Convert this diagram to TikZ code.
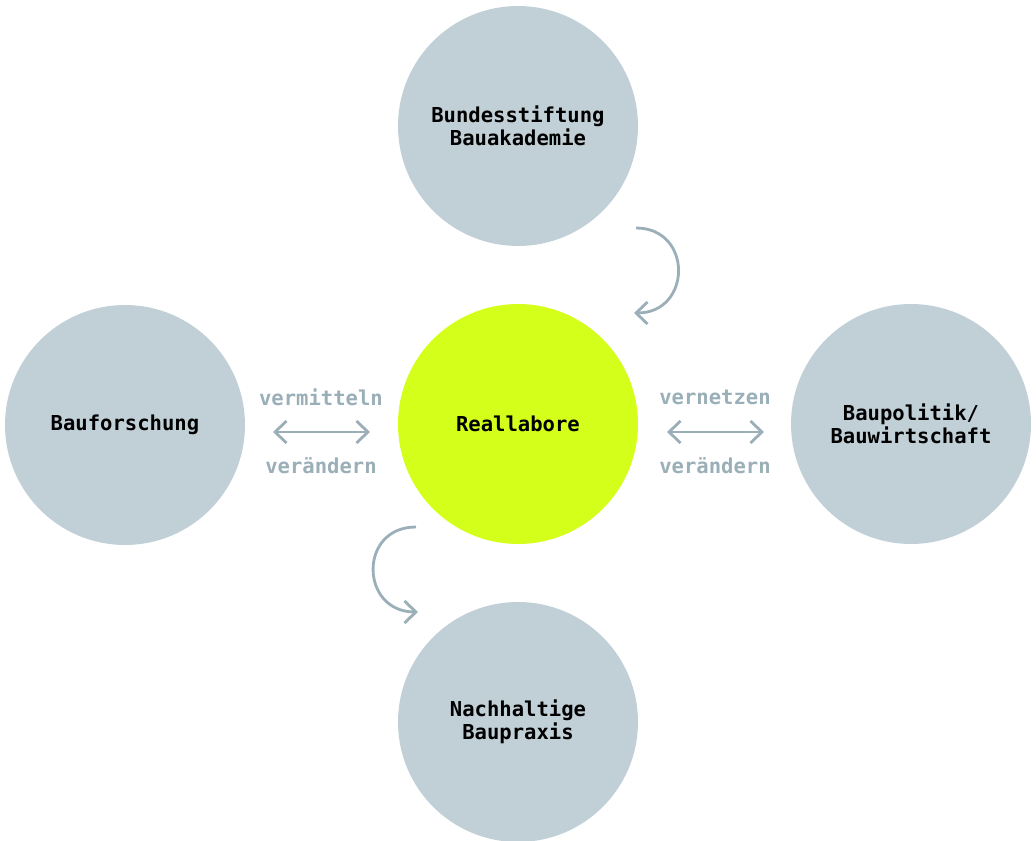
\documentclass[tikz,border=0pt]{standalone}
\usepackage{fontspec}
\setmonofont{DejaVu Sans Mono}
\usetikzlibrary{arrows.meta}
\definecolor{kreisgrau}{HTML}{C1CFD6}
\definecolor{laborgruen}{HTML}{D4FF1A}
\definecolor{pfeilgrau}{HTML}{9AAFB8}
\tikzset{
    kreis/.style={circle,fill=kreisgrau,minimum size=4.8cm,inner sep=0pt,align=center,
        font=\ttfamily\bfseries\fontsize{11.7}{12.8}\selectfont},
    wort/.style={text=pfeilgrau,font=\ttfamily\bfseries\fontsize{11.7}{12.8}\selectfont},
    pfeil/.style={draw=pfeilgrau,line width=1.6pt,
        >={Straight Barb[length=0.23cm,width=0.44cm,line width=1.6pt]}}
}
\begin{document}
\begin{tikzpicture}[x=0.02cm,y=-0.02cm]
    \useasboundingbox (0,0) rectangle (1036,841);

        \node[kreis] (stiftung) at (518,126) {Bundesstiftung\\Bauakademie};
        \node[kreis,fill=laborgruen] (reallabore) at (518,424) {Reallabore};
        \node[kreis] (forschung) at (125,425) {Bauforschung};
        \node[kreis] (politik) at (911,424) {Baupolitik/\\Bauwirtschaft};
        \node[kreis] (praxis) at (518,722) {Nachhaltige\\Baupraxis};

        \node[wort] (vermitteln) at (321,397) {vermitteln};
        \node[wort] (veraendernL) at (321,466) {verändern};
        \node[wort] (vernetzen) at (715,397) {vernetzen};
        \node[wort] (veraendernR) at (715,466) {verändern};

        \coordinate (linksA) at (273,432);
        \coordinate (linksB) at (370,432);
        \coordinate (rechtsA) at (667,432);
        \coordinate (rechtsB) at (764,432);
        \draw[pfeil,<->] (linksA) -- (linksB);
        \draw[pfeil,<->] (rechtsA) -- (rechtsB);

        \coordinate (obenA) at (636,228);
        \coordinate (obenB) at (634,313);
        \draw[pfeil,->] (obenA) .. controls (693,228) and (692,313) .. (obenB);
        \coordinate (untenA) at (416,527);
        \coordinate (untenB) at (418,612);
        \draw[pfeil,->] (untenA) .. controls (358,527) and (360,612) .. (untenB);
    \end{tikzpicture}
\end{document}
